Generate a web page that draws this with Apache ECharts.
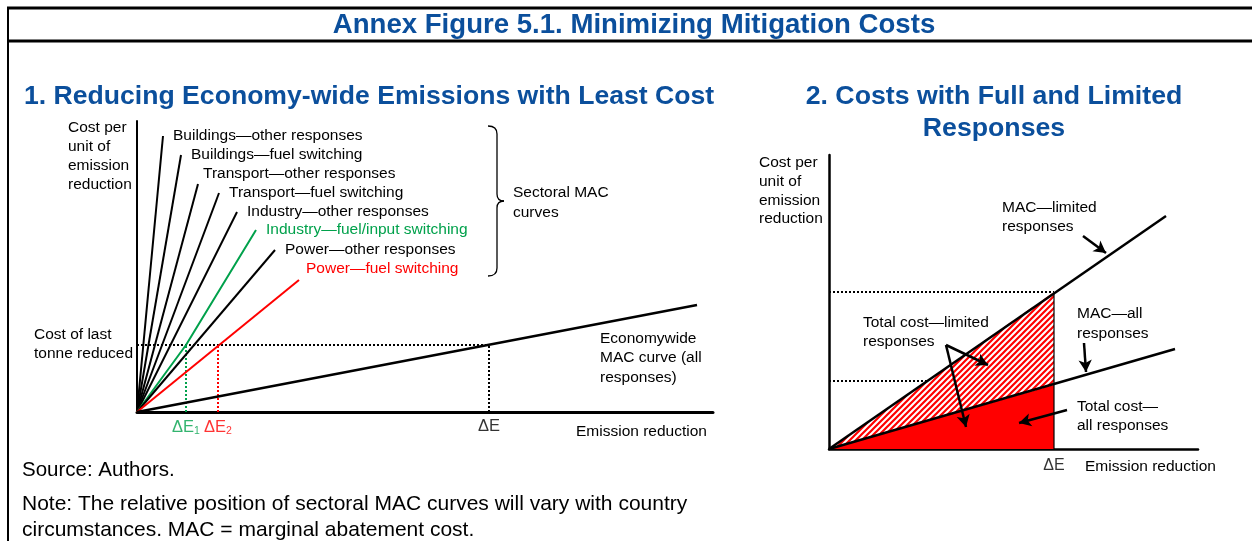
<!DOCTYPE html>
<html>
<head>
<meta charset="utf-8">
<script src="https://cdn.jsdelivr.net/npm/echarts@6/dist/echarts.min.js"></script>
<style>
  html, body { margin: 0; padding: 0; background: #fff; }
  #chart { width: 1252px; height: 541px; }
</style>
</head>
<body>
<div id="chart"></div>
<script>
// panel 1: sectoral MAC curves (schematic units)
var sectorNames = [
  "Buildings—other responses",
  "Buildings—fuel switching",
  "Transport—other responses",
  "Transport—fuel switching",
  "Industry—other responses",
  "Industry—fuel/input switching",
  "Power—other responses",
  "Power—fuel switching"
];
var sectorCurves = [
  [[0, 0], [26, 276]],
  [[0, 0], [44, 257]],
  [[0, 0], [61, 228]],
  [[0, 0], [82, 219]],
  [[0, 0], [100, 200]],
  [[0, 0], [49, 67], [119, 182]],
  [[0, 0], [138, 162]],
  [[0, 0], [162, 132]]
];
var sectorColors = ["#000", "#000", "#000", "#000", "#000", "#00a14b", "#000", "#ff0000"];
var economyCurve = [[0, 0], [560, 107]];
var costLevel = 67;
var dE1 = 49, dE2 = 81, dE = 352;

// panel 2: full vs limited responses
var limitedCurve = [[0, 0], [337, 233]];
var allCurve = [[0, 0], [346, 100]];
var dE_2 = 225;
var limitedAtDE = 157;
var allAtDE = 64;
var limitedLevel = 157;
var allLevel = 68;

var chart = echarts.init(document.getElementById("chart"));
var FONT = "Liberation Sans, Arial, sans-serif";
var BLUE = "#0b4f9c";

// red hatch for the limited-responses area
var hatch = document.createElement("canvas");
hatch.width = 6; hatch.height = 6;
var hc = hatch.getContext("2d");
hc.fillStyle = "#fff"; hc.fillRect(0, 0, 6, 6);
hc.strokeStyle = "#ff0000"; hc.lineWidth = 2.2;
hc.beginPath();
hc.moveTo(0, 6); hc.lineTo(6, 0);
hc.moveTo(-1, 1); hc.lineTo(1, -1);
hc.moveTo(5, 7); hc.lineTo(7, 5);
hc.stroke();

function txt(text, x, y, opts) {
  opts = opts || {};
  return {
    type: "text", silent: true,
    style: {
      text: text, x: x, y: y,
      fill: opts.color || "#000",
      fontFamily: FONT,
      fontSize: opts.size || 15.5,
      fontWeight: opts.bold ? "bold" : "normal",
      align: opts.align || "left",
      verticalAlign: opts.va || "middle",
      lineHeight: opts.lh || 19
    }
  };
}

function seg(x1, y1, x2, y2, w) {
  return { type: "line", silent: true, shape: { x1: x1, y1: y1, x2: x2, y2: y2 }, style: { stroke: "#000", lineWidth: w } };
}

function curl(x1, y1, cx, cy, x2, y2) {
  return { type: "bezierCurve", silent: true,
    shape: { x1: x1, y1: y1, cpx1: cx, cpy1: cy, x2: x2, y2: y2 },
    style: { stroke: "#000", lineWidth: 1.3, fill: null } };
}

function axisX(idx, max, w) {
  return {
    gridIndex: idx, type: "value", min: 0, max: max,
    axisLine: { show: true, onZero: false, lineStyle: { color: "#000", width: w } },
    axisTick: { show: false }, axisLabel: { show: false }, splitLine: { show: false }
  };
}

var series = [];

sectorCurves.forEach(function (pts, i) {
  var off = [0, 0];
  if (i === 2) off = [-5, -10];
  if (i === 7) off = [-3, -11];
  series.push({
    name: sectorNames[i], type: "line", xAxisIndex: 0, yAxisIndex: 0,
    data: pts, showSymbol: false, silent: true,
    lineStyle: { color: sectorColors[i], width: 2 },
    endLabel: {
      show: true, formatter: "{a}", color: sectorColors[i],
      fontFamily: FONT, fontSize: 15.5, distance: 10, offset: off
    }
  });
});

series.push({
  type: "line", xAxisIndex: 0, yAxisIndex: 0, data: economyCurve,
  showSymbol: false, silent: true, lineStyle: { color: "#000", width: 2.5 }
});

function dotted(xi, pts, color) {
  return {
    type: "line", xAxisIndex: xi, yAxisIndex: xi, data: pts, showSymbol: false, silent: true,
    lineStyle: { color: color, width: 2, type: [2, 2] }, z: 1
  };
}
series.push(dotted(0, [[0, costLevel], [dE, costLevel]], "#000"));
series.push(dotted(0, [[dE1, 0], [dE1, costLevel]], "#00a14b"));
series.push(dotted(0, [[dE2, 0], [dE2, costLevel]], "#ff0000"));
series.push(dotted(0, [[dE, 0], [dE, costLevel]], "#000"));

function subStyle(c) {
  return { sub: { color: c, fontFamily: FONT, fontSize: 10.5, verticalAlign: "bottom", padding: [8, 0, 0, 0] } };
}
series.push({
  type: "scatter", xAxisIndex: 0, yAxisIndex: 0, symbolSize: 0, silent: true,
  label: { show: true, position: "bottom", distance: 6, fontFamily: FONT, fontSize: 16.5 },
  data: [
    { value: [dE1, 0], label: { formatter: "ΔE{sub|1}", color: "#00a14b", rich: subStyle("#00a14b") } },
    { value: [dE2, 0], label: { formatter: "ΔE{sub|2}", color: "#ff0000", rich: subStyle("#ff0000") } },
    { value: [dE, 0], label: { formatter: "ΔE", color: "#000" } }
  ]
});

// panel 2
series.push({
  type: "line", xAxisIndex: 1, yAxisIndex: 1, data: [[0, 0], [dE_2, limitedAtDE]],
  showSymbol: false, silent: true, lineStyle: { width: 0 },
  areaStyle: { color: { image: hatch, repeat: "repeat" }, opacity: 1 }
});
series.push({
  type: "line", xAxisIndex: 1, yAxisIndex: 1, data: [[0, 0], [dE_2, allAtDE]],
  showSymbol: false, silent: true, lineStyle: { width: 0 },
  areaStyle: { color: "#ff0000", opacity: 1 }
});
series.push(dotted(1, [[0, limitedLevel], [dE_2, limitedLevel]], "#000"));
series.push(dotted(1, [[0, allLevel], [dE_2, allLevel]], "#000"));
series.push({
  type: "line", xAxisIndex: 1, yAxisIndex: 1, data: [[dE_2, 0], [dE_2, limitedAtDE]],
  showSymbol: false, silent: true, lineStyle: { color: "#000", width: 1.2 }
});
series.push({
  type: "line", xAxisIndex: 1, yAxisIndex: 1, data: limitedCurve,
  showSymbol: false, silent: true, lineStyle: { color: "#000", width: 2.5 }
});
series.push({
  type: "line", xAxisIndex: 1, yAxisIndex: 1, data: allCurve,
  showSymbol: false, silent: true, lineStyle: { color: "#000", width: 2.5 },
  markLine: {
    silent: true, symbol: ["none", "arrow"], symbolSize: [10, 12],
    lineStyle: { color: "#000", width: 2.5, type: "solid" },
    label: { show: false },
    data: [
      [{ coord: [254, 213] }, { coord: [277, 196] }],
      [{ coord: [255, 106] }, { coord: [257, 77] }],
      [{ coord: [117, 104] }, { coord: [159, 84] }],
      [{ coord: [117, 104] }, { coord: [137, 22] }],
      [{ coord: [238, 39] }, { coord: [190, 26] }]
    ]
  }
});
series.push({
  type: "scatter", xAxisIndex: 1, yAxisIndex: 1, symbolSize: 0, silent: true,
  label: { show: true, position: "bottom", distance: 9, fontFamily: FONT, fontSize: 16, color: "#000", formatter: "ΔE" },
  data: [[dE_2, 0]]
});

var option = {
  backgroundColor: "#fff",
  animation: false,
  grid: [
    { left: 137, top: 121, width: 576, height: 291 },
    { left: 829, top: 155, width: 369, height: 294 }
  ],
  xAxis: [axisX(0, 576, 3), axisX(1, 369, 2.5)],
  yAxis: [
    { gridIndex: 0, type: "value", min: 0, max: 291,
      axisLine: { show: true, onZero: false, lineStyle: { color: "#000", width: 2 } },
      axisTick: { show: false }, axisLabel: { show: false }, splitLine: { show: false } },
    { gridIndex: 1, type: "value", min: 0, max: 294,
      axisLine: { show: true, onZero: false, lineStyle: { color: "#000", width: 2.5 } },
      axisTick: { show: false }, axisLabel: { show: false }, splitLine: { show: false } }
  ],
  series: series,
  graphic: [
    seg(7, 8, 1252, 8, 3),
    seg(7, 41, 1252, 41, 3),
    seg(8, 7, 8, 541, 2),
    txt("Annex Figure 5.1. Minimizing Mitigation Costs", 634, 25, { align: "center", size: 27.6, bold: true, color: BLUE }),
    txt("1. Reducing Economy-wide Emissions with Least Cost", 24, 97, { size: 26.6, bold: true, color: BLUE }),
    txt("2. Costs with Full and Limited\nResponses", 994, 81, { align: "center", va: "top", size: 26.7, bold: true, color: BLUE, lh: 32 }),
    txt("Cost per\nunit of\nemission\nreduction", 68, 118.5, { va: "top" }),
    txt("Cost of last\ntonne reduced", 34, 325.5, { va: "top" }),
    txt("Economywide\nMAC curve (all\nresponses)", 600, 328.5, { va: "top", lh: 19.5 }),
    txt("Emission reduction", 576, 432),
    curl(488, 126, 497, 126, 497, 134),
    seg(497, 134, 497, 194, 1.3),
    curl(497, 194, 497, 201, 504, 201),
    curl(504, 201, 497, 201, 497, 208),
    seg(497, 208, 497, 268, 1.3),
    curl(497, 268, 497, 276, 488, 276),
    txt("Sectoral MAC\ncurves", 513, 182.5, { va: "top", lh: 20 }),
    txt("Cost per\nunit of\nemission\nreduction", 759, 153.5, { va: "top", lh: 18.7 }),
    txt("MAC—limited\nresponses", 1002, 198.5, { va: "top" }),
    txt("Total cost—limited\nresponses", 863, 313.5, { va: "top" }),
    txt("MAC—all\nresponses", 1077, 303.5, { va: "top", lh: 20 }),
    txt("Total cost—\nall responses", 1077, 397.5, { va: "top" }),
    txt("Emission reduction", 1085, 467),
    txt("Source: Authors.", 22, 470, { size: 20.5 }),
    txt("Note: The relative position of sectoral MAC curves will vary with country", 22, 504, { size: 21 }),
    txt("circumstances. MAC = marginal abatement cost.", 22, 530, { size: 21 })
  ]
};

chart.setOption(option);
</script>
</body>
</html>
